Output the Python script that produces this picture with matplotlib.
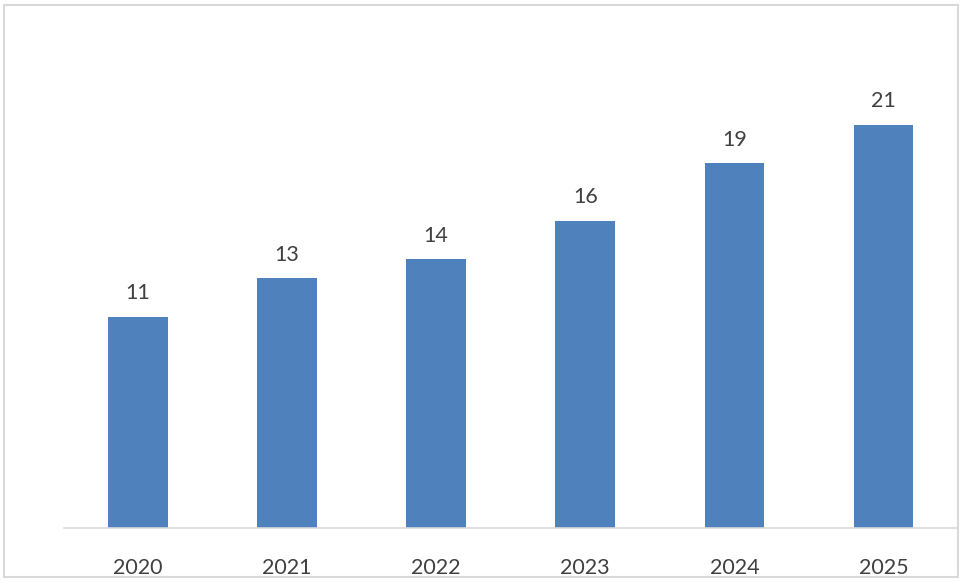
import matplotlib.pyplot as plt
from matplotlib.patches import Rectangle

# données
annees = ['2020', '2021', '2022', '2023', '2024', '2025']
valeurs = [11, 13, 14, 16, 19, 21]

plt.rcParams['font.family'] = ['Lato', 'DejaVu Sans']

fig = plt.figure(figsize=(9.6, 5.82), dpi=100)
ax = fig.add_axes([63.5 / 960, 1 - 527.7 / 582, 894.5 / 960, 480 / 582])

x = range(len(annees))
barres = ax.bar(x, valeurs, width=0.4, color='#4F81BD')

# étiquettes de valeur au-dessus des barres
for xi, v in zip(x, valeurs):
    ax.annotate(str(v), (xi, v), xytext=(0, 12.5), textcoords='offset points',
                ha='center', va='baseline', fontsize=15.5, color='#404040')

ax.set_xlim(-0.5, len(annees) - 0.5)
ax.set_ylim(0, 25)
ax.set_xticks(list(x))
ax.set_xticklabels(annees, fontsize=15.5, color='#404040')
ax.tick_params(axis='x', length=0, pad=21.5)
ax.set_yticks([])

for s in ['top', 'right', 'left']:
    ax.spines[s].set_visible(False)
ax.spines['bottom'].set_color('#d9d9d9')
ax.spines['bottom'].set_linewidth(1.2)

# cadre autour du graphique
cadre = Rectangle((4 / 960, 1 - 577 / 582), 954 / 960, 572 / 582,
                  transform=fig.transFigure, fill=False,
                  edgecolor='#d9d9d9', linewidth=1.5)
fig.patches.append(cadre)

fig.savefig('out.png', dpi=100)
